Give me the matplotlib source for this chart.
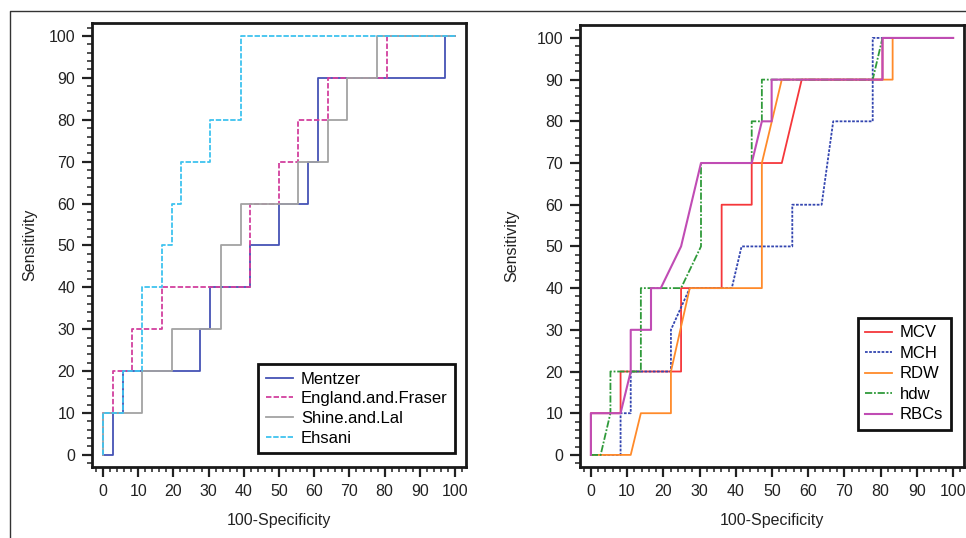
import matplotlib
matplotlib.use("Agg")
import matplotlib.pyplot as plt
from matplotlib.lines import Line2D
from matplotlib.ticker import MultipleLocator

plt.rcParams["font.family"] = ["Liberation Sans Narrow", "Liberation Sans", "DejaVu Sans"]

# ---- left panel: indices ----
mentzer_x = [0, 2.9, 2.9, 5.6, 5.6, 27.7, 27.7, 30.4, 30.4, 41.8, 41.8, 50, 50, 58.3, 58.3, 61, 61, 97, 97, 100]
mentzer_y = [0, 0, 10, 10, 20, 20, 30, 30, 40, 40, 50, 50, 60, 60, 70, 70, 90, 90, 100, 100]

england_x = [0, 0, 2.9, 2.9, 8.4, 8.4, 16.7, 16.7, 41.8, 41.8, 50, 50, 55.5, 55.5, 63.8, 63.8, 80.6, 80.6, 100]
england_y = [0, 10, 10, 20, 20, 30, 30, 40, 40, 60, 60, 70, 70, 80, 80, 90, 90, 100, 100]

shine_x = [0, 0, 5.6, 5.6, 11.2, 11.2, 19.5, 19.5, 33.5, 33.5, 39.1, 39.1, 55.5, 55.5, 63.8, 63.8, 69.4, 69.4, 77.9, 77.9, 100]
shine_y = [0, 10, 10, 10, 10, 20, 20, 30, 30, 50, 50, 60, 60, 70, 70, 80, 80, 90, 90, 100, 100]

ehsani_x = [0, 0, 5.6, 5.6, 11.2, 11.2, 16.7, 16.7, 19.5, 19.5, 22.2, 22.2, 30.4, 30.4, 39.1, 39.1, 100]
ehsani_y = [0, 10, 10, 20, 20, 40, 40, 50, 50, 60, 60, 70, 70, 80, 80, 100, 100]

# ---- right panel: single parameters ----
mcv_x = [0, 0, 8.2, 8.2, 24.9, 24.9, 36.1, 36.1, 44.4, 44.4, 52.7, 58.2, 80.5, 80.5, 100]
mcv_y = [0, 10, 10, 20, 20, 40, 40, 60, 60, 70, 70, 90, 90, 100, 100]

mch_x = [0, 8.2, 8.2, 11, 11, 22.1, 22.1, 27.3, 38.9, 41.6, 55.6, 55.6, 63.7, 66.9, 77.8, 77.8, 100]
mch_y = [0, 0, 10, 10, 20, 20, 30, 40, 40, 50, 50, 60, 60, 80, 80, 100, 100]

rdw_x = [0, 11, 13.8, 22.1, 22.1, 27.3, 47.2, 47.2, 52.7, 83.3, 83.3, 100]
rdw_y = [0, 0, 10, 10, 20, 40, 40, 70, 90, 90, 100, 100]

hdw_x = [0, 2.7, 5.4, 5.4, 13.8, 13.8, 24.9, 30.4, 30.4, 44.4, 44.4, 47.2, 47.2, 77.8, 80.5, 100]
hdw_y = [0, 0, 10, 20, 20, 40, 40, 50, 70, 70, 80, 80, 90, 90, 100, 100]

rbc_x = [0, 0, 8.2, 11, 11, 16.6, 16.6, 19.3, 24.9, 30.4, 44.4, 47.2, 49.9, 49.9, 80.5, 80.5, 100]
rbc_y = [0, 10, 10, 20, 30, 30, 40, 40, 50, 70, 70, 80, 80, 90, 90, 100, 100]

ticks = list(range(0, 101, 10))

W, H = 966, 538
fig = plt.figure(figsize=(W / 100, H / 100), dpi=100, facecolor="white")

# thin frame around the figure (top and left only visible)
fig.add_artist(Line2D([10 / W, 10 / W, 1], [0, 1 - 11 / H, 1 - 11 / H],
                      transform=fig.transFigure, color="#333333", lw=1))


def style_axes(ax, xlim, ylim):
    ax.set_xlim(*xlim)
    ax.set_ylim(*ylim)
    ax.set_xticks(ticks)
    ax.set_yticks(ticks)
    ax.xaxis.set_minor_locator(MultipleLocator(2))
    ax.yaxis.set_minor_locator(MultipleLocator(2))
    ax.tick_params(which="major", direction="out", length=7, width=1.6,
                   labelsize=11.5, colors="#222222", pad=5)
    ax.tick_params(which="minor", direction="out", length=3.5, width=1.1, colors="#222222")
    for s in ax.spines.values():
        s.set_linewidth(2)
        s.set_color("#1a1a1a")
    ax.set_xlabel("100-Specificity", fontsize=11.5, color="#222222", va="center")
    ax.set_ylabel("Sensitivity", fontsize=11.5, color="#222222", va="center")


# left panel
ax1 = fig.add_axes([92 / W, 1 - 467 / H, 374 / W, 444 / H])
ax1.plot(mentzer_x, mentzer_y, color="#4553b5", lw=1.3, label="Mentzer")
ax1.plot(england_x, england_y, color="#d2409e", lw=1.3, ls=(0, (3, 1.2)), label="England.and.Fraser")
ax1.plot(shine_x, shine_y, color="#a3a3a3", lw=1.3, label="Shine.and.Lal")
ax1.plot(ehsani_x, ehsani_y, color="#3fc3ef", lw=1.3, ls=(0, (3, 1)), label="Ehsani")
style_axes(ax1, (-3.1, 103.1), (-2.9, 103.1))
ax1.xaxis.set_label_coords(0.5, (467 - 521) / 444)
ax1.yaxis.set_label_coords((30 - 92) / 374, 0.5)
leg1 = ax1.legend(loc="lower right", bbox_to_anchor=(0.971, 0.0315), borderaxespad=0,
                  fontsize=12, frameon=True, fancybox=False, framealpha=1,
                  handlelength=1.6, handletextpad=0.5, labelspacing=0.28,
                  borderpad=0.45)
leg1.get_frame().set_edgecolor("#111111")
leg1.get_frame().set_linewidth(2)

# right panel
ax2 = fig.add_axes([580 / W, 1 - 467 / H, 384 / W, 442 / H])
ax2.plot(mcv_x, mcv_y, color="#f5373a", lw=1.3, label="MCV")
ax2.plot(mch_x, mch_y, color="#3446b0", lw=1.3, ls=(0, (1.5, 0.8)), label="MCH")
ax2.plot(rdw_x, rdw_y, color="#ff8a2a", lw=1.3, label="RDW")
ax2.plot(hdw_x, hdw_y, color="#2f9a3a", lw=1.3, ls=(0, (4, 1, 1, 1)), label="hdw")
ax2.plot(rbc_x, rbc_y, color="#c04cb4", lw=1.5, label="RBCs")
style_axes(ax2, (-3.0, 103.0), (-2.9, 103.1))
ax2.xaxis.set_label_coords(0.5, (467 - 521) / 442)
ax2.yaxis.set_label_coords((512 - 580) / 384, 0.5)
leg2 = ax2.legend(loc="lower right", bbox_to_anchor=(0.966, 0.084), borderaxespad=0,
                  fontsize=12, frameon=True, fancybox=False, framealpha=1,
                  handlelength=1.6, handletextpad=0.5, labelspacing=0.33,
                  borderpad=0.45)
leg2.get_frame().set_edgecolor("#111111")
leg2.get_frame().set_linewidth(2)

fig.savefig("out.png", dpi=100, facecolor="white")
